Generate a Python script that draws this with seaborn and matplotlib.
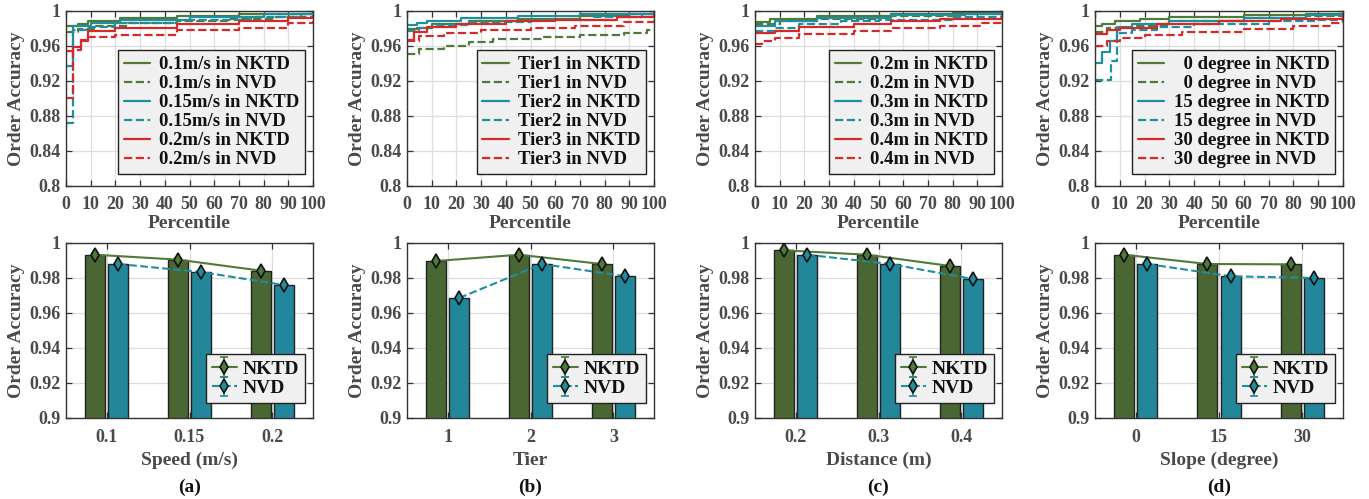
import numpy as np
import pandas as pd
import matplotlib
matplotlib.use('Agg')
import matplotlib.pyplot as plt
import seaborn as sns

# ---- CDF curves (percentile, accuracy) breakpoints ----
speed_01_nktd = [(0, 0.983), (5, 0.985), (9, 0.989), (22, 0.992), (45, 0.994), (70, 0.996), (90, 0.997), (100, 0.998)]
speed_01_nvd = [(0, 0.976), (5, 0.979), (12, 0.983), (25, 0.986), (45, 0.989), (65, 0.991), (85, 0.993), (100, 0.995)]
speed_015_nktd = [(0, 0.937), (3, 0.983), (10, 0.986), (22, 0.990), (50, 0.993), (80, 0.996), (100, 0.999)]
speed_015_nvd = [(0, 0.872), (3, 0.978), (8, 0.982), (20, 0.986), (45, 0.990), (75, 0.993), (95, 0.996), (100, 0.997)]
speed_02_nktd = [(0, 0.954), (3, 0.959), (6, 0.966), (9, 0.977), (20, 0.980), (45, 0.985), (70, 0.989), (90, 0.992), (100, 0.993)]
speed_02_nvd = [(0, 0.900), (3, 0.955), (6, 0.967), (9, 0.970), (20, 0.972), (45, 0.978), (70, 0.981), (90, 0.986), (100, 0.988)]

tier1_nktd = [(0, 0.979), (4, 0.981), (10, 0.985), (25, 0.988), (45, 0.991), (70, 0.994), (90, 0.996), (100, 0.998)]
tier1_nvd = [(0, 0.951), (5, 0.956), (15, 0.960), (25, 0.965), (35, 0.968), (55, 0.970), (70, 0.973), (88, 0.975), (97, 0.978), (100, 0.978)]
tier2_nktd = [(0, 0.984), (4, 0.986), (8, 0.988), (22, 0.992), (45, 0.994), (70, 0.996), (100, 0.999)]
tier2_nvd = [(0, 0.977), (5, 0.980), (10, 0.984), (25, 0.987), (50, 0.990), (75, 0.993), (95, 0.996), (100, 0.997)]
tier3_nktd = [(0, 0.967), (3, 0.976), (8, 0.982), (20, 0.985), (40, 0.988), (60, 0.990), (85, 0.993), (100, 0.995)]
tier3_nvd = [(0, 0.966), (5, 0.971), (15, 0.975), (30, 0.978), (50, 0.980), (68, 0.983), (88, 0.987), (100, 0.990)]

dist_02_nktd = [(0, 0.987), (6, 0.991), (25, 0.994), (55, 0.996), (80, 0.998), (100, 0.999)]
dist_02_nvd = [(0, 0.985), (10, 0.988), (25, 0.991), (50, 0.994), (80, 0.996), (100, 0.997)]
dist_03_nktd = [(0, 0.983), (8, 0.988), (25, 0.992), (55, 0.995), (85, 0.997), (100, 0.998)]
dist_03_nvd = [(0, 0.977), (8, 0.980), (18, 0.985), (35, 0.988), (50, 0.990), (80, 0.993), (100, 0.996)]
dist_04_nktd = [(0, 0.975), (8, 0.977), (18, 0.982), (40, 0.985), (55, 0.988), (75, 0.991), (100, 0.995)]
dist_04_nvd = [(0, 0.962), (3, 0.966), (8, 0.969), (18, 0.974), (40, 0.977), (55, 0.980), (75, 0.983), (92, 0.986), (100, 0.990)]

slope_0_nktd = [(0, 0.983), (3, 0.985), (8, 0.988), (18, 0.991), (30, 0.993), (60, 0.995), (85, 0.997), (100, 0.998)]
slope_0_nvd = [(0, 0.976), (5, 0.980), (15, 0.983), (30, 0.988), (60, 0.992), (85, 0.994), (100, 0.996)]
slope_15_nktd = [(0, 0.940), (3, 0.953), (6, 0.966), (9, 0.982), (15, 0.985), (30, 0.988), (60, 0.992), (85, 0.995), (100, 0.998)]
slope_15_nvd = [(0, 0.921), (6.5, 0.943), (9, 0.975), (15, 0.978), (25, 0.982), (40, 0.985), (70, 0.988), (90, 0.990), (100, 0.997)]
slope_30_nktd = [(0, 0.974), (5, 0.978), (10, 0.981), (25, 0.985), (50, 0.988), (75, 0.991), (100, 0.995)]
slope_30_nvd = [(0, 0.960), (5, 0.966), (10, 0.969), (20, 0.973), (35, 0.976), (60, 0.979), (80, 0.983), (95, 0.986), (100, 0.988)]

# ---- bar data (mean accuracy) ----
speed_labels = ['0.1', '0.15', '0.2']
speed_nktd = [0.9933, 0.9905, 0.9842]
speed_nvd = [0.9880, 0.9834, 0.9760]

tier_labels = ['1', '2', '3']
tier_nktd = [0.9897, 0.9933, 0.9880]
tier_nvd = [0.9686, 0.9880, 0.9810]

dist_labels = ['0.2', '0.3', '0.4']
dist_nktd = [0.9958, 0.9933, 0.9869]
dist_nvd = [0.9933, 0.9880, 0.9794]

slope_labels = ['0', '15', '30']
slope_nktd = [0.9933, 0.9880, 0.9878]
slope_nvd = [0.9880, 0.9810, 0.9800]

err_nktd = [0.0008, 0.0008, 0.0008]
err_nvd = [0.0008, 0.0008, 0.0008]

# ---- style ----
sns.set_style('ticks')
plt.rcParams['font.family'] = ['Liberation Serif', 'DejaVu Serif']
plt.rcParams['font.weight'] = 'bold'
plt.rcParams['axes.labelweight'] = 'bold'

GREEN = '#4f7a3a'
TEAL = '#1f8fa0'
RED = '#d42a2a'
BAR_GREEN = '#4a6632'
BAR_TEAL = '#22879a'
TICK_GRAY = '#4a4a4a'
LEG_BG = '#f0f0f0'

W, H = 1369, 499
fig = plt.figure(figsize=(W / 100, H / 100), dpi=100)

cols = [(66, 313), (407, 654), (755, 1002), (1095, 1343)]


def make_ax(x0, x1, y0, y1):
    return fig.add_axes([x0 / W, 1 - y1 / H, (x1 - x0) / W, (y1 - y0) / H])


def style_ax(ax):
    for s in ax.spines.values():
        s.set_color('#333333')
        s.set_linewidth(1.0)
    ax.tick_params(direction='in', top=True, right=True, length=4, width=0.9,
                   colors='#333333', labelcolor=TICK_GRAY, labelsize=13, pad=4)
    for lab in ax.get_xticklabels() + ax.get_yticklabels():
        lab.set_fontweight('bold')
    ax.grid(True, color='#dddddd', linewidth=0.9)
    ax.set_axisbelow(True)


top_sets = [
    [('0.1m/s in NKTD', speed_01_nktd), ('0.1m/s in NVD', speed_01_nvd),
     ('0.15m/s in NKTD', speed_015_nktd), ('0.15m/s in NVD', speed_015_nvd),
     ('0.2m/s in NKTD', speed_02_nktd), ('0.2m/s in NVD', speed_02_nvd)],
    [('Tier1 in NKTD', tier1_nktd), ('Tier1 in NVD', tier1_nvd),
     ('Tier2 in NKTD', tier2_nktd), ('Tier2 in NVD', tier2_nvd),
     ('Tier3 in NKTD', tier3_nktd), ('Tier3 in NVD', tier3_nvd)],
    [('0.2m in NKTD', dist_02_nktd), ('0.2m in NVD', dist_02_nvd),
     ('0.3m in NKTD', dist_03_nktd), ('0.3m in NVD', dist_03_nvd),
     ('0.4m in NKTD', dist_04_nktd), ('0.4m in NVD', dist_04_nvd)],
    [('  0 degree in NKTD', slope_0_nktd), ('  0 degree in NVD', slope_0_nvd),
     ('15 degree in NKTD', slope_15_nktd), ('15 degree in NVD', slope_15_nvd),
     ('30 degree in NKTD', slope_30_nktd), ('30 degree in NVD', slope_30_nvd)],
]
line_colors = [GREEN, GREEN, TEAL, TEAL, RED, RED]
line_styles = ['-', '--', '-', '--', '-', '--']

bottom_sets = [
    (speed_labels, speed_nktd, speed_nvd, 'Speed (m/s)', '(a)'),
    (tier_labels, tier_nktd, tier_nvd, 'Tier', '(b)'),
    (dist_labels, dist_nktd, dist_nvd, 'Distance (m)', '(c)'),
    (slope_labels, slope_nktd, slope_nvd, 'Slope (degree)', '(d)'),
]

for i, (x0, x1) in enumerate(cols):
    # ---------- top: CDF ----------
    ax = make_ax(x0, x1, 11, 186)
    for (label, pts), c, ls in zip(top_sets[i], line_colors, line_styles):
        d = pd.DataFrame(pts, columns=['pct', 'acc'])
        sns.lineplot(data=d, x='pct', y='acc', ax=ax, color=c, linestyle=ls,
                     drawstyle='steps-post', linewidth=1.6, label=label,
                     estimator=None, sort=False)
    ax.set_xlim(0, 100)
    ax.set_ylim(0.8, 1.0)
    ax.set_xticks(np.arange(0, 101, 10))
    ax.set_yticks([0.8, 0.84, 0.88, 0.92, 0.96, 1.0])
    ax.set_yticklabels(['0.8', '0.84', '0.88', '0.92', '0.96', '1'])
    style_ax(ax)
    ax.tick_params(axis='x', pad=7)
    ax.set_xlabel('Percentile', fontsize=14, color=TICK_GRAY, labelpad=2)
    ax.set_ylabel('Order Accuracy', fontsize=14, color=TICK_GRAY, labelpad=3)
    leg = ax.legend(loc='lower right', bbox_to_anchor=(0.968, 0.07), fontsize=13.5,
                    frameon=True, fancybox=False, facecolor=LEG_BG, edgecolor='#222222',
                    framealpha=1, labelspacing=0.1, handlelength=1.4, borderpad=0.3,
                    handletextpad=0.5, borderaxespad=0)
    leg.get_frame().set_linewidth(1.0)
    for t in leg.get_texts():
        t.set_fontweight('bold')
        t.set_color('#111111')

    # ---------- bottom: bars ----------
    labels, nktd, nvd, xlabel, tag = bottom_sets[i]
    ax2 = make_ax(x0, x1, 243, 418)
    df = pd.DataFrame({
        'cat': labels * 2,
        'acc': list(nktd) + list(nvd),
        'method': ['NKTD'] * 3 + ['NVD'] * 3,
    })
    sns.barplot(data=df, x='cat', y='acc', hue='method', order=labels,
                hue_order=['NKTD', 'NVD'], palette=[BAR_GREEN, BAR_TEAL],
                width=0.56, gap=0.14, edgecolor='#222222', linewidth=1.0,
                errorbar=None, legend=False, ax=ax2, saturation=1)
    # bar centres from the drawn patches
    centres = [p.get_x() + p.get_width() / 2 for p in ax2.patches]
    xs_nktd = centres[:3]
    xs_nvd = centres[3:6]
    ax2.errorbar(xs_nktd, nktd, yerr=err_nktd, color=GREEN, linestyle='-', linewidth=1.5,
                 marker='d', markersize=7, markerfacecolor=GREEN, markeredgecolor='#111111',
                 markeredgewidth=1.2, capsize=3, elinewidth=1.3, label='NKTD', zorder=5)
    ax2.errorbar(xs_nvd, nvd, yerr=err_nvd, color=TEAL, linestyle='--', linewidth=1.5,
                 marker='d', markersize=7, markerfacecolor=TEAL, markeredgecolor='#111111',
                 markeredgewidth=1.2, capsize=3, elinewidth=1.3, label='NVD', zorder=5)
    ax2.set_xlim(-0.49, 2.49)
    ax2.set_ylim(0.9, 1.0)
    ax2.set_yticks([0.9, 0.92, 0.94, 0.96, 0.98, 1.0])
    ax2.set_yticklabels(['0.9', '0.92', '0.94', '0.96', '0.98', '1'])
    style_ax(ax2)
    ax2.tick_params(axis='x', pad=8)
    ax2.set_xlabel(xlabel, fontsize=14, color=TICK_GRAY, labelpad=4)
    ax2.set_ylabel('Order Accuracy', fontsize=14, color=TICK_GRAY, labelpad=3)
    leg2 = ax2.legend(loc='lower right', bbox_to_anchor=(0.968, 0.085), fontsize=14,
                      frameon=True, fancybox=False, facecolor=LEG_BG, edgecolor='#222222',
                      framealpha=1, labelspacing=0.1, handlelength=1.3, borderpad=0.3,
                      handletextpad=0.3, borderaxespad=0)
    leg2.get_frame().set_linewidth(1.0)
    for t in leg2.get_texts():
        t.set_fontweight('bold')
        t.set_color('#111111')

    fig.text((x0 + x1) / 2 / W, 1 - 487 / H, tag, ha='center', va='center',
             fontsize=14, fontweight='bold', color='#111111')

fig.savefig('out.png', dpi=100)
